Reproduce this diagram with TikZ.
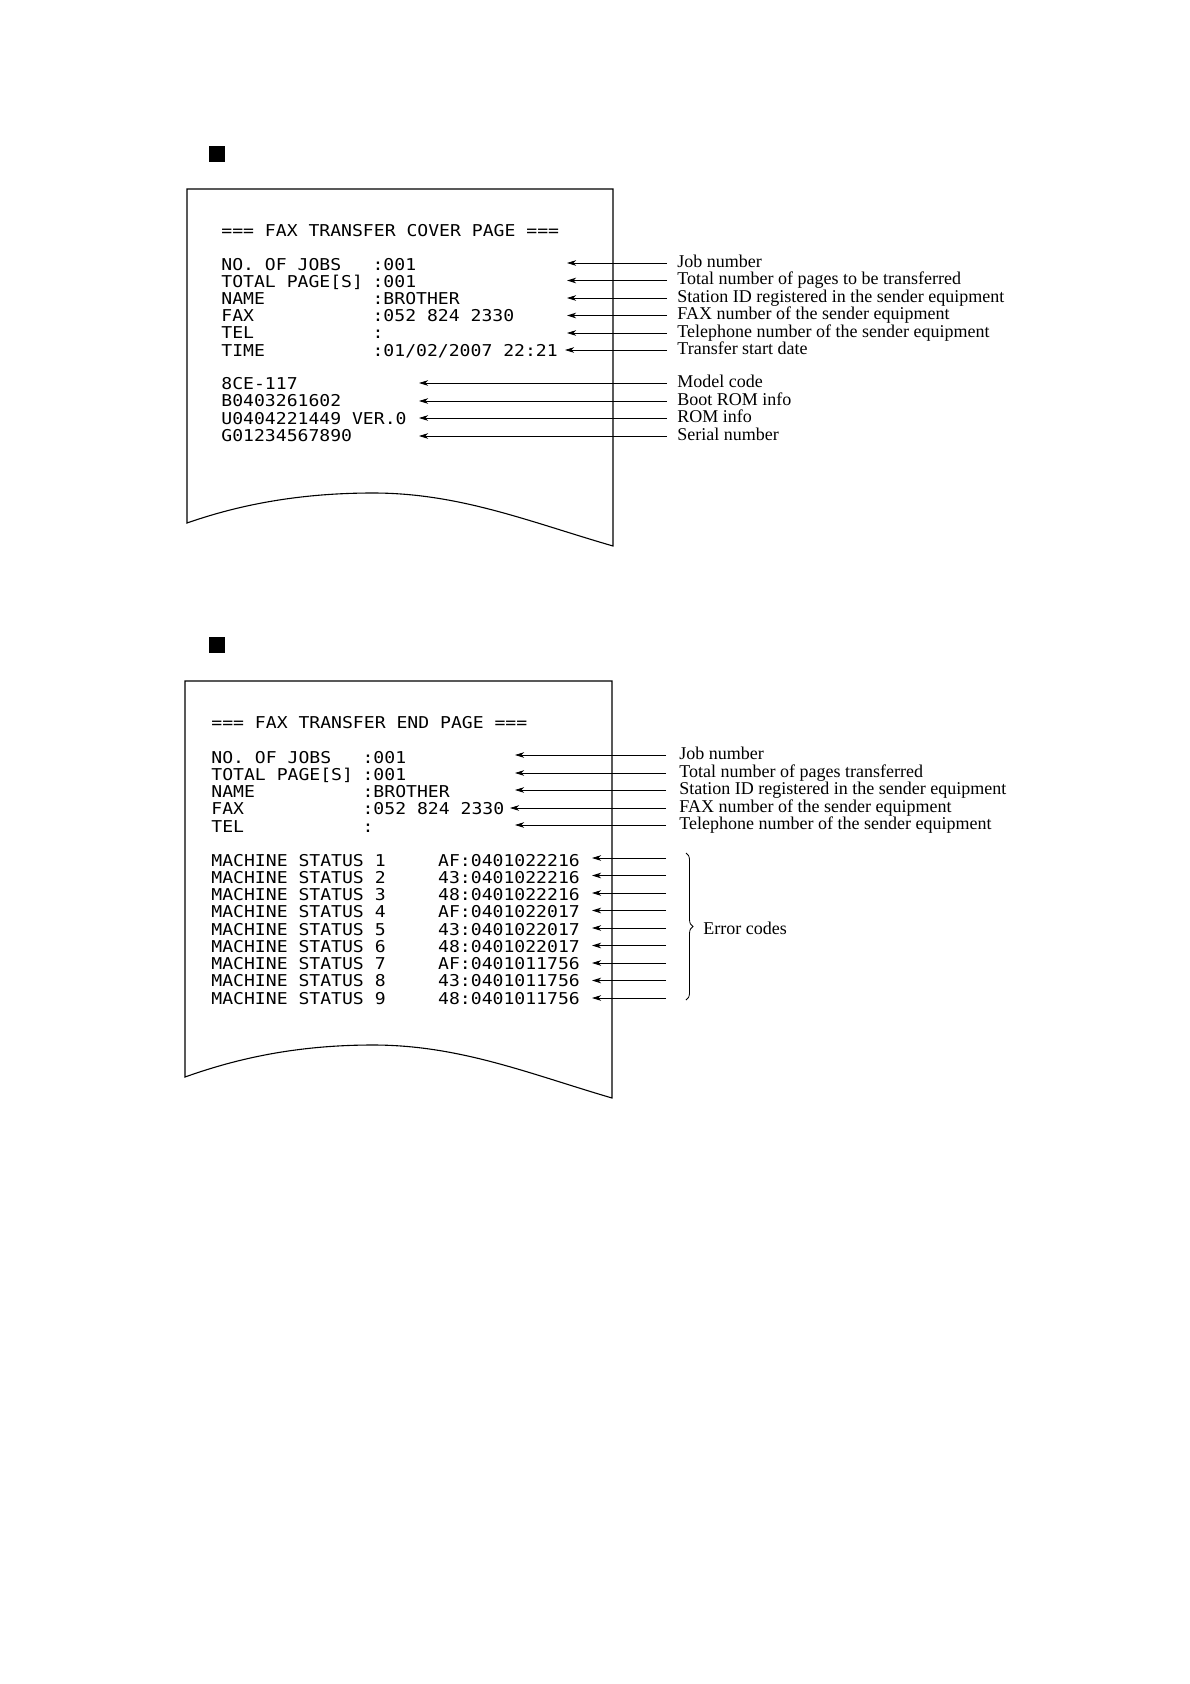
\documentclass[tikz,border=0pt]{standalone}
\usepackage{fontspec}
\setmainfont{Liberation Serif}
\newfontfamily\printfont[FakeStretch=1.11]{DejaVu Sans Mono}
\usetikzlibrary{arrows.meta,decorations.pathreplacing}

\begin{document}
\begin{tikzpicture}[x=1pt,y=-1pt,line width=.8pt,
 prt/.style={font=\fontsize{16.3}{18}\printfont\frenchspacing,anchor=base west,inner sep=0pt},
 lbl/.style={font=\fontsize{18}{20}\selectfont,anchor=west,inner sep=0pt,text height=11pt,text depth=3pt},
 ptr/.style={-{Stealth[length=9pt,width=5.5pt,inset=2.5pt]},line width=.8pt}]
\useasboundingbox (0,0) rectangle (1190,1684);
% cover page
\fill (209,146) rectangle (225,162);
\draw[line width=1.1pt] (187,523) -- (187,189) -- (613,189) -- (613,546)
 .. controls (530,522) and (460,493) .. (373,493) .. controls (290,493) and (230,508) .. cycle;
\node[prt] (ctitle) at (221,236) {=== FAX TRANSFER COVER PAGE ===};
\foreach \i/\y/\k/\v in {1/270/NO. OF JOBS/:001,2/287/TOTAL PAGE[S]/:001,3/304/NAME/:BROTHER,
 4/321/FAX/:052 824 2330,5/338/TEL/:,6/356/TIME/{:01/02/2007 22:21}}{
 \node[prt] (ck\i) at (221,\y) {\k};
 \node[prt] (cv\i) at (372.2,\y) {\v};
}
\foreach \i/\y/\k in {1/389/8CE-117,2/406.5/B0403261602,3/424/U0404221449 VER.0,4/441.5/G01234567890}{
 \node[prt] (cr\i) at (221,\y) {\k};
}
\foreach \i/\y/\tip/\txt in {1/263/567/Job number,2/280.5/567/Total number of pages to be transferred,
 3/298/567/Station ID registered in the sender equipment,4/315.5/567/FAX number of the sender equipment,
 5/333/567/Telephone number of the sender equipment,6/350/565/Transfer start date,
 7/383/419/Model code,8/401/419/Boot ROM info,9/418/419/ROM info,10/436/419/Serial number}{
 \node[lbl] (cl\i) at (677,\y) {\txt};
 \coordinate (ct\i) at (\tip,\y);
 \draw[ptr] ([xshift=-10pt]cl\i.west) -- (ct\i);
}
% end page
\fill (209,637) rectangle (225,653);
\draw[line width=1.1pt] (185,1077) -- (185,681) -- (612,681) -- (612,1098)
 .. controls (530,1074) and (460,1045) .. (373,1045) .. controls (290,1045) and (230,1061) .. cycle;
\node[prt] (etitle) at (211,728) {=== FAX TRANSFER END PAGE ===};
\foreach \i/\y/\k/\v in {1/763/NO. OF JOBS/:001,2/780/TOTAL PAGE[S]/:001,3/797/NAME/:BROTHER,
 4/814/FAX/:052 824 2330,5/832/TEL/:}{
 \node[prt] (ek\i) at (211,\y) {\k};
 \node[prt] (ev\i) at (362.2,\y) {\v};
}
\foreach \i/\c in {1/AF:0401022216,2/43:0401022216,3/48:0401022216,4/AF:0401022017,5/43:0401022017,
 6/48:0401022017,7/AF:0401011756,8/43:0401011756,9/48:0401011756}{
 \pgfmathsetmacro\yy{848.75+17.25*\i}
 \node[prt] (ms\i) at (211,\yy) {MACHINE STATUS \i};
 \node[prt] (mc\i) at (437.8,\yy) {\c};
}
\foreach \i/\y/\tip/\txt in {1/755/515/Job number,2/773/515/Total number of pages transferred,
 3/790/515/Station ID registered in the sender equipment,4/808/510/FAX number of the sender equipment,
 5/825/515/Telephone number of the sender equipment}{
 \node[lbl] (el\i) at (679,\y) {\txt};
 \coordinate (et\i) at (\tip,\y);
 \draw[ptr] ([xshift=-13pt]el\i.west) -- (et\i);
}
\foreach \i in {1,...,9}{
 \pgfmathsetmacro\yy{840.5+17.5*\i}
 \coordinate (ea\i) at (666,\yy);
 \coordinate (eb\i) at (592,\yy);
 \draw[ptr] (ea\i) -- (eb\i);
}
\draw[decorate,decoration={brace,amplitude=7pt}] (686,853) -- (686,1000);
\node[lbl] (err) at (703,930) {Error codes};
\end{tikzpicture}
\end{document}
